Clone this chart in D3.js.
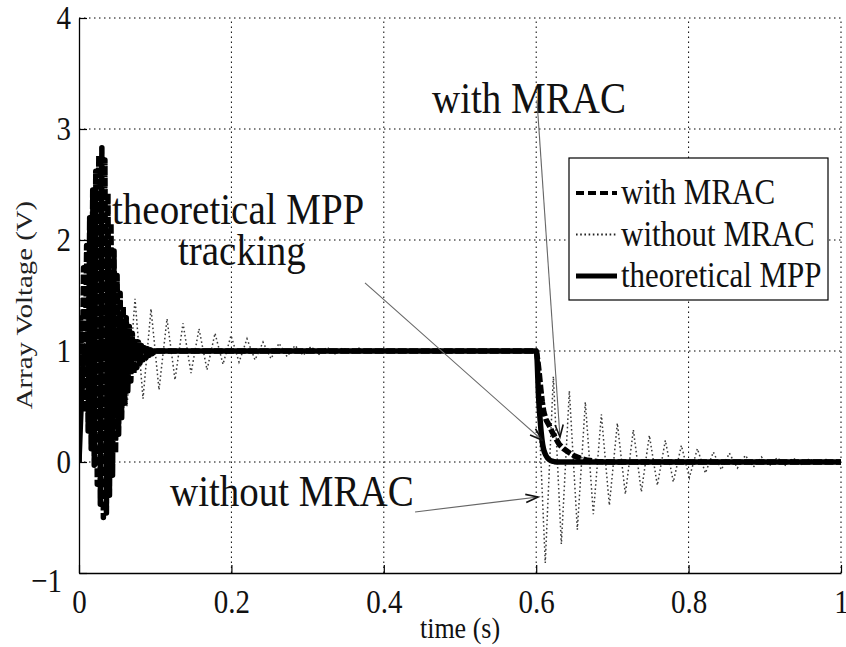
<!DOCTYPE html>
<html><head><meta charset="utf-8">
<script src="https://cdn.jsdelivr.net/npm/d3@7"></script>
<style>body{margin:0;background:#fff} svg text{font-family:"Liberation Serif","Times New Roman",serif !important;}</style>
</head><body><svg id="c" width="846" height="647"></svg>
<script>
// ---- data ----
const xTicks = [0, 0.2, 0.4, 0.6, 0.8, 1];
const xTickLabels = ["0", "0.2", "0.4", "0.6", "0.8", "1"];
const yTicks = [-1, 0, 1, 2, 3, 4];
const yTickLabels = ["\u22121", "0", "1", "2", "3", "4"];
const seriesNames = ["with MRAC", "without MRAC", "theoretical MPP"];

// theoretical MPP
const theoT = [0, 0.008, 0.6, 0.6008, 0.603, 0.6055, 0.6076, 0.6095, 0.612, 0.615, 0.619, 0.624, 0.63, 1.0];
const theoV = [0, 1, 1, 0.97, 0.6, 0.35, 0.2, 0.12, 0.07, 0.035, 0.012, 0.003, 0, 0];

// with MRAC: oscillation maxima / minima read from the start-up burst
const withPeakT = [0.002,0.006,0.010,0.014,0.018,0.022,0.026,0.030,0.034,0.038,0.042,0.046,0.050,0.054,0.058,0.062,0.066,0.070,0.074,0.078,0.082,0.086,0.090,0.094];
const withPeakV = [1.3,1.75,1.95,2.2,2.45,2.62,2.76,2.83,2.72,2.42,2.15,1.9,1.68,1.52,1.40,1.30,1.22,1.16,1.11,1.08,1.05,1.03,1.02,1.01];
const withTroughT = [0.004,0.008,0.012,0.016,0.020,0.024,0.028,0.032,0.036,0.040,0.044,0.048,0.052,0.056,0.060,0.064,0.068,0.072,0.076,0.080,0.084,0.088,0.092,0.096];
const withTroughV = [0.6,0.45,0.28,0.12,-0.03,-0.2,-0.38,-0.5,-0.46,-0.3,-0.12,0.08,0.25,0.40,0.53,0.64,0.73,0.80,0.85,0.89,0.92,0.94,0.96,0.975];
// with MRAC: rest of the response
const withTailT = [0.1,0.2,0.3,0.4,0.5,0.6,0.602,0.604,0.606,0.608,0.61,0.613,0.617,0.621,0.625,0.63,0.636,0.642,0.65,0.658,0.668,0.68,0.7,0.8,0.9,1.0];
const withTailV = [1.0,1.0,1.0,1.0,1.0,1.0,0.92,0.8,0.66,0.54,0.45,0.38,0.33,0.27,0.22,0.16,0.12,0.09,0.055,0.033,0.015,0.005,0,0,0,0];

// without MRAC: extrema of the oscillation
const woT = [0,0.0105,0.021,0.0315,0.042,0.0525,0.063,0.0735,0.084,0.0945,0.105,0.1155,0.126,0.1365,0.147,0.1575,0.168,0.1785,0.189,0.1995,0.21,0.2205,0.231,0.2415,0.252,0.2625,0.273,0.2835,0.294,0.3045,0.315,0.3255,0.336,0.3465,0.357,0.3675,0.378,0.3885,0.399,0.4095,0.42,0.4305,0.441,0.4515,0.462,0.4725,0.483,0.5,0.6,
  0.6119,0.6225,0.633,0.6435,0.654,0.6645,0.675,0.6855,0.696,0.7065,0.717,0.7275,0.738,0.7485,0.759,0.7695,0.78,0.7905,0.801,0.8115,0.822,0.8325,0.843,0.8535,0.864,0.8745,0.885,0.8955,0.906,0.9165,0.927,0.9375,0.948,0.9585,0.969,0.9795,0.99,1.0];
const woV = [0,1.5,0.5,1.55,0.45,1.5,0.5,1.47,0.57,1.38,0.65,1.29,0.74,1.25,0.80,1.20,0.83,1.16,0.88,1.14,0.90,1.11,0.92,1.08,0.93,1.07,0.95,1.05,0.96,1.04,0.97,1.035,0.975,1.03,0.98,1.025,0.985,1.02,0.99,1.015,0.99,1.01,0.995,1.01,0.995,1.005,0.997,1.0,1.0,
  -0.91,0.77,-0.74,0.64,-0.61,0.54,-0.47,0.43,-0.39,0.35,-0.29,0.29,-0.27,0.24,-0.21,0.195,-0.18,0.15,-0.14,0.12,-0.10,0.09,-0.07,0.08,-0.055,0.06,-0.045,0.045,-0.035,0.04,-0.03,0.035,-0.02,0.03,-0.015,0.025,-0.01,0.01];

// annotations (data coordinates)
const annoText = ["with MRAC", "theoretical MPP", "tracking", "without MRAC"];
const annoT = [0.4633, 0.0433, 0.1299, 0.1194];
const annoV = [3.144, 2.145, 1.775, -0.396];
const arrowFromT = [0.601, 0.3753, 0.441];
const arrowFromV = [3.26, 1.613, -0.45];
const arrowToT = [0.6312, 0.6076, 0.6024];
const arrowToV = [0.225, 0.198, -0.315];

// ---- drawing ----
const W = 846, H = 647;
const FONT = "Liberation Serif, Times New Roman, serif";
const svg = d3.select("#c").style("font-family", FONT);
svg.append("rect").attr("width", W).attr("height", H).attr("fill", "#fff");

const x = d3.scaleLinear().domain([0, 1]).range([79, 841]);
const y = d3.scaleLinear().domain([-1, 4]).range([573, 18]);
const SY = 1.15;

svg.append("defs").append("clipPath").attr("id", "clip")
  .append("rect").attr("x", x(0)).attr("y", y(4) - 2).attr("width", x(1) - x(0) + 2).attr("height", y(-1) - y(4) + 2);

// grid
const grid = svg.append("g");
grid.selectAll(".gx").data(xTicks.filter(d => d > 0)).join("line")
  .attr("x1", d => x(d)).attr("x2", d => x(d)).attr("y1", y(-1)).attr("y2", y(4))
  .attr("stroke", "#000").attr("stroke-width", 1).attr("stroke-dasharray", "1.5,3.5");
grid.selectAll(".gy").data(yTicks.filter(d => d > -1)).join("line")
  .attr("x1", x(0)).attr("x2", x(1)).attr("y1", d => y(d)).attr("y2", d => y(d))
  .attr("stroke", "#000").attr("stroke-width", 1).attr("stroke-dasharray", "1.5,3.5");

// series data
const theoData = theoT.map((t, i) => ({t, v: theoV[i]}));
const osc = withPeakT.map((t, i) => ({t, v: withPeakV[i]}))
  .concat(withTroughT.map((t, i) => ({t, v: withTroughV[i]})))
  .sort((a, b) => a.t - b.t);
const withData = [{t: 0, v: 0}].concat(osc, withTailT.map((t, i) => ({t, v: withTailV[i]})));
const woData = woT.map((t, i) => ({t, v: woV[i]}));

const line = d3.line().x(d => x(d.t)).y(d => y(d.v));
const plot = svg.append("g").attr("clip-path", "url(#clip)");

plot.append("path").datum(woData).attr("d", line)
  .attr("fill", "none").attr("stroke", "#3a3a3a").attr("stroke-width", 1.5).attr("stroke-dasharray", "1.6,2.6");
plot.append("path").datum(withData).attr("d", line)
  .attr("fill", "none").attr("stroke", "#000").attr("stroke-width", 5.5).attr("stroke-dasharray", "9,2.5")
  .attr("stroke-linejoin", "round");
plot.append("path").datum(theoData).attr("d", d3.line().x(d => x(d.t)).y(d => y(d.v)).curve(d3.curveMonotoneX))
  .attr("fill", "none").attr("stroke", "#000").attr("stroke-width", 5.5).attr("stroke-linejoin", "round");

// axes
const ax = svg.append("g").attr("transform", `translate(0,${y(-1)})`)
  .call(d3.axisBottom(x).tickValues(xTicks).tickFormat((d, i) => xTickLabels[i]).tickSize(-8).tickSizeOuter(0).tickPadding(14));
const ay = svg.append("g").attr("transform", `translate(${x(0)},0)`)
  .call(d3.axisLeft(y).tickValues(yTicks).tickFormat((d, i) => yTickLabels[i]).tickSize(-8).tickSizeOuter(0).tickPadding(8));
[ax, ay].forEach(a => {
  a.attr("font-family", FONT);
  a.select(".domain").attr("stroke", "#000").attr("stroke-width", 1.3);
  a.selectAll(".tick line").attr("stroke", "#000").attr("stroke-width", 1.2);
  a.selectAll("text").attr("font-size", 29).attr("fill", "#111").attr("transform", `scale(1,${SY})`);
});
// the −1 label sits a little lower-left, clear of the x-axis "0"
ay.selectAll(".tick text").filter(d => d === -1).attr("x", -17).attr("dy", "0.55em");

// axis titles
svg.append("text").attr("transform", `translate(460,638) scale(1,${SY})`)
  .attr("text-anchor", "middle").attr("font-size", 26).attr("fill", "#111").text("time (s)");
svg.append("text").attr("transform", `translate(32,305) rotate(-90) scale(1.2,1)`)
  .attr("text-anchor", "middle").attr("font-size", 24).attr("fill", "#222").text("Array Voltage (V)");

// annotations
annoText.forEach((s, i) => {
  svg.append("text").attr("transform", `translate(${x(annoT[i])},${y(annoV[i])}) scale(1,${SY})`)
    .attr("font-size", 39).attr("fill", "#111").text(s);
});
arrowFromT.forEach((t, i) => {
  const x1 = x(t), y1 = y(arrowFromV[i]), x2 = x(arrowToT[i]), y2 = y(arrowToV[i]);
  svg.append("line").attr("x1", x1).attr("y1", y1).attr("x2", x2).attr("y2", y2)
    .attr("stroke", "#666").attr("stroke-width", 1.1);
  const ang = Math.atan2(y2 - y1, x2 - x1), L = 13, a = 0.32;
  const p1 = [x2 - L * Math.cos(ang - a), y2 - L * Math.sin(ang - a)];
  const p2 = [x2 - L * Math.cos(ang + a), y2 - L * Math.sin(ang + a)];
  svg.append("path").attr("d", `M${p1[0]},${p1[1]}L${x2},${y2}L${p2[0]},${p2[1]}`)
    .attr("fill", "none").attr("stroke", "#111").attr("stroke-width", 1.6);
});

// legend
const lg = svg.append("g");
lg.append("rect").attr("x", 569).attr("y", 158).attr("width", 259).attr("height", 142)
  .attr("fill", "#fff").attr("stroke", "#000").attr("stroke-width", 1.2);
const lgStyles = [
  {w: 4, dash: "8,4", col: "#000"},
  {w: 1.8, dash: "1.6,2.6", col: "#222"},
  {w: 5, dash: null, col: "#000"}
];
seriesNames.forEach((s, i) => {
  const by = 204 + i * 41.5;
  lg.append("line").attr("x1", 576).attr("x2", 617).attr("y1", by - 11).attr("y2", by - 11)
    .attr("stroke", lgStyles[i].col).attr("stroke-width", lgStyles[i].w)
    .attr("stroke-dasharray", lgStyles[i].dash);
  lg.append("text").attr("transform", `translate(621,${by}) scale(1,${SY})`)
    .attr("font-size", 31).attr("fill", "#111").text(s);
});
</script></body></html>
